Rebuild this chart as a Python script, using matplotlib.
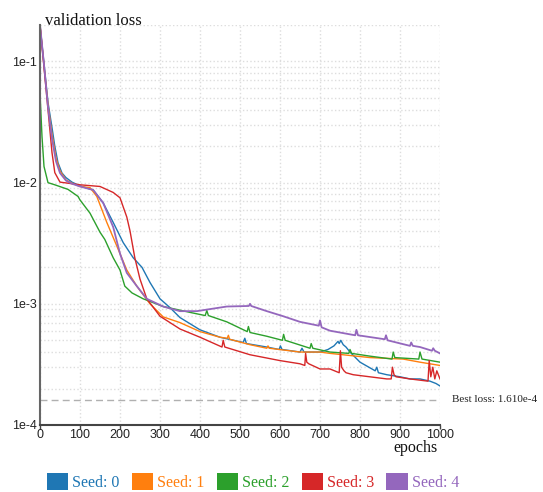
import numpy as np
import matplotlib
matplotlib.use("Agg")
import matplotlib.pyplot as plt
from matplotlib.ticker import LogLocator, NullFormatter, FixedLocator
from matplotlib.patches import Patch

## data (epoch, validation loss)

seed0_epoch = [0, 10, 20, 30, 37, 45, 55, 65, 80, 100, 133, 158, 183, 208, 233, 255, 275, 300, 325, 350,
               400, 450, 508, 512, 516, 567, 598, 601, 605, 650, 655, 660, 700, 720, 735, 745, 748, 752,
               758, 765, 775, 800, 838, 842, 846, 867, 900, 925, 950, 975, 990, 1000]
seed0_loss = [0.2, 0.096, 0.046, 0.0285, 0.02, 0.0146, 0.012, 0.011, 0.0101, 0.0094, 0.0087, 0.0068, 0.0047,
              0.0032, 0.0024, 0.002, 0.0015, 0.0011, 0.00093, 0.00077, 0.00061, 0.00053, 0.00048, 0.00052,
              0.00047, 0.00044, 0.00042, 0.00045, 0.00042, 0.0004, 0.00043, 0.0004, 0.0004, 0.00042, 0.00045,
              0.00049, 0.00047, 0.0005, 0.00046, 0.00044, 0.0004, 0.00033, 0.00028, 0.0003, 0.00027, 0.00026,
              0.00025, 0.00024, 0.00024, 0.00023, 0.00022, 0.00021]

seed1_epoch = [0, 10, 20, 30, 40, 50, 65, 80, 100, 125, 142, 167, 192, 217, 242, 275, 308, 350, 400, 450,
               468, 471, 474, 525, 567, 570, 573, 650, 700, 725, 825, 908, 950, 1000]
seed1_loss = [0.2, 0.092, 0.044, 0.025, 0.016, 0.0125, 0.0105, 0.0099, 0.0093, 0.0091, 0.0077, 0.0047, 0.003,
              0.0019, 0.0014, 0.001, 0.00078, 0.0007, 0.00059, 0.00053, 0.00052, 0.00055, 0.00051, 0.00046,
              0.00043, 0.00045, 0.00043, 0.0004, 0.0004, 0.00039, 0.00036, 0.00035, 0.00033, 0.00031]

seed2_epoch = [0, 5, 10, 20, 37, 70, 95, 100, 125, 150, 162, 183, 200, 212, 230, 258, 308, 375, 413, 417,
               421, 467, 518, 521, 525, 567, 606, 609, 613, 675, 678, 682, 725, 772, 775, 779, 825, 880,
               883, 887, 947, 950, 955, 1000]
seed2_loss = [0.055, 0.024, 0.0136, 0.01, 0.0096, 0.0088, 0.0077, 0.0072, 0.0056, 0.0039, 0.0034, 0.0024,
              0.0019, 0.0014, 0.00123, 0.0011, 0.00095, 0.00085, 0.0008, 0.00088, 0.0008, 0.00071, 0.00059,
              0.00065, 0.00058, 0.00054, 0.0005, 0.00056, 0.0005, 0.00043, 0.00047, 0.00043, 0.0004, 0.00039,
              0.00042, 0.00039, 0.00037, 0.00035, 0.0004, 0.00036, 0.00035, 0.0004, 0.00035, 0.00033]

seed3_epoch = [0, 10, 20, 30, 37, 50, 70, 100, 150, 183, 200, 217, 225, 237, 250, 267, 287, 300, 350, 400,
               455, 458, 462, 525, 600, 650, 662, 664, 667, 672, 700, 725, 748, 751, 754, 760, 765, 783,
               867, 878, 881, 885, 890, 925, 970, 973, 977, 982, 987, 992, 1000]
seed3_loss = [0.2, 0.09, 0.04, 0.0177, 0.0121, 0.0101, 0.0099, 0.0096, 0.0093, 0.0083, 0.0075, 0.0052, 0.004,
              0.0024, 0.0016, 0.0011, 0.0009, 0.00079, 0.00062, 0.00053, 0.00044, 0.0005, 0.00044, 0.00038,
              0.00034, 0.00032, 0.00031, 0.00039, 0.00033, 0.00032, 0.00029, 0.00029, 0.00027, 0.00041,
              0.0003, 0.00028, 0.00027, 0.00026, 0.00024, 0.00024, 0.0003, 0.00026, 0.00025, 0.00024, 0.00023,
              0.00034, 0.00025, 0.0003, 0.00024, 0.00028, 0.00024]

seed4_epoch = [0, 10, 20, 30, 40, 50, 65, 80, 100, 133, 158, 183, 200, 217, 242, 267, 308, 350, 392, 430,
               467, 522, 525, 528, 567, 608, 650, 697, 700, 704, 725, 788, 791, 795, 862, 865, 869, 925,
               928, 932, 950, 980, 983, 987, 1000]
seed4_loss = [0.2, 0.094, 0.042, 0.023, 0.015, 0.012, 0.0104, 0.0098, 0.0093, 0.0087, 0.0068, 0.0043, 0.0026,
              0.0018, 0.0014, 0.0011, 0.00095, 0.00087, 0.00087, 0.00091, 0.00095, 0.00096, 0.001, 0.00096,
              0.00087, 0.00079, 0.00071, 0.00066, 0.00073, 0.00064, 0.0006, 0.00055, 0.00061, 0.00055,
              0.00051, 0.00055, 0.0005, 0.00045, 0.00048, 0.00045, 0.00044, 0.00041, 0.00043, 0.00041, 0.00039]

seed_labels = ["Seed: 0", "Seed: 1", "Seed: 2", "Seed: 3", "Seed: 4"]
seed_colors = ["#1f77b4", "#ff7f0e", "#2ca02c", "#d62728", "#9467bd"]
best_loss = 1.610e-4
best_loss_label = "Best loss: 1.610e-4"
x_ticks = [0, 100, 200, 300, 400, 500, 600, 700, 800, 900, 1000]
y_ticks = [1e-4, 1e-3, 1e-2, 1e-1]
y_tick_labels = ["1e-4", "1e-3", "1e-2", "1e-1"]

serif = "Liberation Serif"
sans = "Liberation Sans"

fig = plt.figure(figsize=(5.43, 4.92), dpi=100)
ax = fig.add_axes([40/543, 1 - 425/492, 400/543, 400/492])

series = [(seed0_epoch, seed0_loss), (seed1_epoch, seed1_loss), (seed2_epoch, seed2_loss),
          (seed3_epoch, seed3_loss), (seed4_epoch, seed4_loss)]
for i, ((ep, loss), c) in enumerate(zip(series, seed_colors)):
    ax.plot(ep, loss, color=c, lw=1.3 if i == 4 else 1.0)

# best loss line
ax.axhline(best_loss, color="#b0b0b0", lw=1, ls=(0, (5, 3)))
ax.text(1.03, best_loss, best_loss_label, transform=ax.get_yaxis_transform(),
        va="center", ha="left", fontsize=8, family=serif, color="#222222")

ax.set_yscale("log")
ax.set_xlim(0, 1000)
ax.set_ylim(1e-4, 0.2)

ax.yaxis.set_major_locator(FixedLocator(y_ticks))
ax.set_yticklabels(y_tick_labels, fontsize=9, family=sans, color="#222222")
ax.yaxis.set_minor_locator(LogLocator(base=10, subs=range(2, 10)))
ax.yaxis.set_minor_formatter(NullFormatter())
ax.tick_params(axis="y", which="both", length=0, pad=2)

ax.set_xticks(x_ticks)
ax.set_xticklabels([str(t) for t in x_ticks], fontsize=9, family=sans, color="#222222")
ax.tick_params(axis="x", length=3, width=1, color="#444444", pad=0)

ax.grid(True, which="major", color="#dddddd", ls=":", lw=1)
ax.grid(True, which="minor", axis="y", color="#dddddd", ls=":", lw=1)

for s in ["top", "right"]:
    ax.spines[s].set_visible(False)
ax.spines["left"].set_color("#666666")
ax.spines["left"].set_linewidth(1.5)
ax.spines["bottom"].set_color("#444444")
ax.spines["bottom"].set_linewidth(1.5)

# title and axis label
ax.text(0.0125, 1.0, "validation loss", transform=ax.transAxes, ha="left", va="baseline",
        fontsize=12, family=serif, color="#111111")
fig.text(438/543, 1 - 452/492, "epochs", ha="right", va="baseline", fontsize=11.5, family=serif,
         color="#111111")

# legend
handles = [Patch(facecolor=c, edgecolor="none") for c in seed_colors]
fig.legend(handles, seed_labels, loc="center", bbox_to_anchor=(253/543, 1 - 482/492), ncol=5,
           frameon=False, handlelength=1.35, handleheight=1.2, handletextpad=0.25, columnspacing=0.75,
           labelcolor=seed_colors, prop={"family": serif, "size": 11.5})

fig.savefig("out.png", dpi=100)
